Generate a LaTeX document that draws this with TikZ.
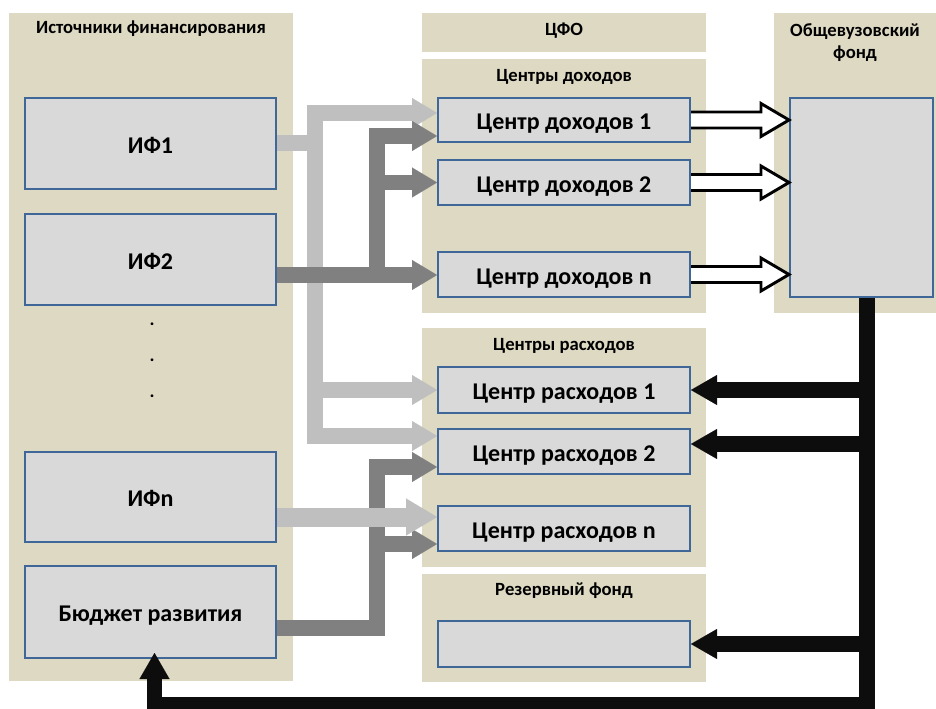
\documentclass[tikz,border=0pt]{standalone}
\usepackage{fontspec}
\setmainfont{Carlito}
\usetikzlibrary{arrows.meta,calc}
\definecolor{panel}{HTML}{DDD9C3}
\definecolor{boxfill}{HTML}{D9D9D9}
\definecolor{boxline}{HTML}{3F6797}
\definecolor{lgray}{HTML}{BFBFBF}
\definecolor{dgray}{HTML}{808080}
\definecolor{blk}{HTML}{0D0D0D}
\tikzset{
  bx/.style 2 args={draw=boxline, line width=1.5pt, fill=boxfill, inner sep=0pt,
    minimum width={#1*0.75pt}, minimum height={#2*0.75pt},
    font=\fontsize{18}{21}\selectfont\bfseries, text height=11.6pt, text depth=0pt},
  ttl/.style={font=\fontsize{14}{16.5}\selectfont\bfseries, align=center, inner sep=0pt},
  lgarrow/.style={draw=lgray, line width=12pt,
    -{Triangle[length=18.75pt,width=22.5pt,line width=0.01pt]}},
  lgbig/.style={draw=lgray, line width=14.25pt,
    -{Triangle[length=23.25pt,width=27.75pt,line width=0.01pt]}},
  dgarrow/.style={draw=dgray, line width=11.6pt,
    -{Triangle[length=18.75pt,width=22.5pt,line width=0.01pt]}},
  bkarrow/.style={draw=blk, line width=11.6pt,
    -{Triangle[length=19.5pt,width=22.5pt,line width=0.01pt]}},
  hollow/.style={draw=black, line width=2.2pt, fill=white, line join=miter},
  dotnode/.style={font=\fontsize{14}{16}\selectfont\bfseries, inner sep=0pt}
}
\newcommand\hollowarrow[2]{%
  \draw[hollow] ($(#1)+(0,-8)$) -- ($(#2)+(-28,-8)$) -- ($(#2)+(-28,-16.5)$) -- (#2)
    -- ($(#2)+(-28,16.5)$) -- ($(#2)+(-28,8)$) -- ($(#1)+(0,8)$);}
\begin{document}
\begin{tikzpicture}[x=0.75pt,y=-0.75pt]
\useasboundingbox (0,0) rectangle (936,709);
% panels
\fill[panel] (9,13) rectangle (293,681);
\fill[panel] (422,13) rectangle (706,52);
\fill[panel] (422,59) rectangle (706,313);
\fill[panel] (422,328) rectangle (706,567);
\fill[panel] (422,574) rectangle (706,682);
\fill[panel] (774,13) rectangle (936,313);
% titles
\node[ttl] (tIF) at (151,29) {Источники финансирования};
\node[ttl] (tCFO) at (564,31) {ЦФО};
\node[ttl] (tCD) at (564,77) {Центры доходов};
\node[ttl] (tOF) at (855,43) {Общевузовский\\фонд};
\node[ttl] (tCR) at (564,346) {Центры расходов};
\node[ttl] (tRF) at (564,591) {Резервный фонд};
% boxes
\node[bx={251}{91}] (IF1) at (150.5,143.5) {\raisebox{-1.5pt}{ИФ1}};
\node[bx={251}{91}] (IF2) at (150.5,259.5) {\raisebox{-1.5pt}{ИФ2}};
\node[bx={251}{90}] (IFn) at (150.5,497) {\raisebox{-1.5pt}{ИФn}};
\node[bx={251}{92}] (BR) at (150.5,612) {\raisebox{-1.5pt}{Бюджет развития}};
\node[bx={252}{44}] (CD1) at (564,120) {\raisebox{-1.5pt}{Центр доходов 1}};
\node[bx={252}{45}] (CD2) at (564,182.5) {\raisebox{-1.5pt}{Центр доходов 2}};
\node[bx={252}{45}] (CDn) at (564,274.5) {\raisebox{-1.5pt}{Центр доходов n}};
\node[bx={252}{46}] (CR1) at (564,390) {\raisebox{-1.5pt}{Центр расходов 1}};
\node[bx={252}{45}] (CR2) at (564,451.5) {\raisebox{-1.5pt}{Центр расходов 2}};
\node[bx={252}{45}] (CRn) at (564,528.5) {\raisebox{-1.5pt}{Центр расходов n}};
\node[bx={252}{46}] (RF) at (564,644) {};
\node[bx={143}{199}] (OF) at (861.5,197.5) {};
% dots
\node[dotnode] (d1) at (152,324) {.};
\node[dotnode] (d2) at (152,360) {.};
\node[dotnode] (d3) at (152,396) {.};
% junction coordinates
\coordinate (lgTop) at (315,113);
\coordinate (lgBot) at (315,436);
\coordinate (dg1Top) at (377,136);
\coordinate (dg1Bot) at (377,275);
\coordinate (dg2Top) at (377,467);
\coordinate (dg2Bot) at (377,628);
\coordinate (bkTop) at (867,298);
\coordinate (bkBot) at (867,705);
\coordinate (bkLeft) at (154.5,705);
% light gray network from IF1
\draw[draw=lgray, line width=12pt] (IF1.east |- 0,143) -- (315,143);
\draw[lgarrow, {Triangle[length=18.75pt,width=22.5pt,line width=0.01pt]}-{Triangle[length=18.75pt,width=22.5pt,line width=0.01pt]}]
  (CR2.west |- lgBot) -- (lgBot) -- (lgTop) -- (CD1.west |- lgTop);
\draw[lgarrow] (315,390) -- (CR1.west);
% dark gray network from IF2
\draw[dgarrow] (dg1Bot) -- (dg1Top) -- (CD1.west |- dg1Top);
\draw[dgarrow] (377,182.5) -- (CD2.west);
\draw[dgarrow] (IF2.east |- dg1Bot) -- (CDn.west |- dg1Bot);
% dark gray network from BR
\draw[dgarrow] (BR.east |- dg2Bot) -- (dg2Bot) -- (dg2Top) -- (CR2.west |- dg2Top);
\draw[dgarrow] (377,544) -- (CRn.west |- 0,544);
% light gray IFn
\draw[lgbig] (IFn.east |- 0,517) -- (CRn.west |- 0,517);
% hollow arrows
\hollowarrow{CD1.east}{OF.west |- CD1.east}
\hollowarrow{CD2.east}{OF.west |- CD2.east}
\hollowarrow{CDn.east}{OF.west |- CDn.east}
% black network
\draw[bkarrow] (bkTop) -- (bkBot) -- (bkLeft) -- ($(bkLeft |- BR.south)+(0,-6)$);
\draw[bkarrow] (867,390) -- (CR1.east);
\draw[bkarrow] (867,444) -- (CR2.east |- 0,444);
\draw[bkarrow] (867,644) -- (RF.east);
\end{tikzpicture}
\end{document}
